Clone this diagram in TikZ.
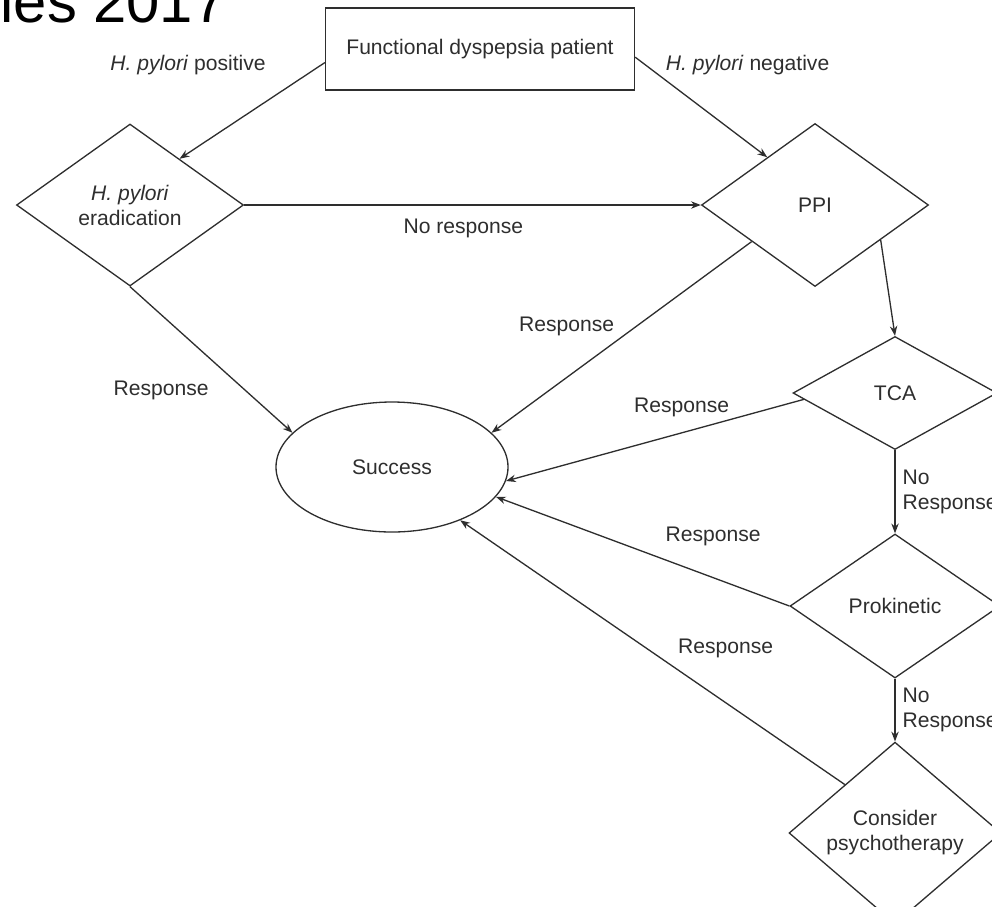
\documentclass[tikz,border=0pt]{standalone}
\usepackage{fontspec}
\setmainfont{Liberation Sans}
\usepackage{tikz}
\usetikzlibrary{arrows.meta,shapes.geometric,positioning}
\definecolor{ink}{HTML}{2E2E2E}

\begin{document}
\begin{tikzpicture}[->,>={Stealth[length=5.6pt,width=4.2pt]},line width=0.75pt,color=ink,
                    every node/.style={font=\fontsize{12}{14.2}\selectfont}]
  \tikzstyle{decision}=[diamond,draw,on grid,inner sep=0pt,align=center]
  \tikzstyle{outcome}=[ellipse,draw,on grid,inner sep=0pt]
  \tikzstyle{lbl}=[inner sep=2pt]

  \useasboundingbox (0,0) rectangle (19.84,-18.12);

  \node[anchor=base west,font=\fontsize{34}{34}\selectfont,text=black] (title) at (-0.12,-0.44) {ies 2017};

  \node[draw,minimum width=6.18cm,minimum height=1.64cm] (patient) at (9.6,-0.98) {Functional dyspepsia patient};
  \node[decision,minimum width=4.54cm,minimum height=3.24cm] (erad) [below left=3.12cm and 7cm of patient] {\textit{H. pylori}\\eradication};
  \node[decision,minimum width=4.54cm,minimum height=3.26cm] (ppi)  [right=13.7cm of erad]               {PPI};
  \node[decision,minimum width=4.08cm,minimum height=2.26cm] (tca)  [below right=3.76cm and 1.6cm of ppi] {TCA};
  \node[decision,minimum width=4.2cm,minimum height=2.88cm]  (pro)  [below=4.26cm of tca]                {Prokinetic};
  \node[decision,minimum width=4.24cm,minimum height=2.88cm] (cons) [below=4.54cm of pro]                {Consider\\psychotherapy};
  \node[outcome,minimum width=4.64cm,minimum height=2.6cm]   (succ) [below right=5.24cm and 5.24cm of erad] {Success};

  \path (patient.185) edge node[lbl,pos=0,left=1.1cm,yshift=-0.05cm]   {\textit{H. pylori} positive} (erad.43)
        (patient.357) edge node[lbl,pos=0,right=0.53cm,yshift=-0.15cm] {\textit{H. pylori} negative} (ppi.135)
        (erad.east)   edge node[lbl,pos=0.48,below=0.19cm] {No response} (ppi.west)
        (erad.south)  edge node[lbl,pos=0.71,left=0.65cm]  {Response} (succ.161)
        (ppi.210)     edge node[lbl,pos=0.43,left=0.43cm,yshift=-0.05cm]  {Response} (succ.19)
        (ppi.332)     edge (tca.north)
        (tca.184)     edge node[lbl,pos=0.41,above=0.23cm] {Response} (succ.353)
        (tca.south)   edge node[lbl,midway,right=0.07cm,align=left] {No\\Response} (pro.north)
        (pro.west)    edge node[lbl,pos=0.26,above=0.55cm] {Response} (succ.344)
        (pro.south)   edge node[lbl,midway,right=0.07cm,align=left] {No\\Response} (cons.north)
        (cons.136)    edge node[lbl,pos=0.31,above=0.81cm] {Response} (succ.322);
\end{tikzpicture}
\end{document}
